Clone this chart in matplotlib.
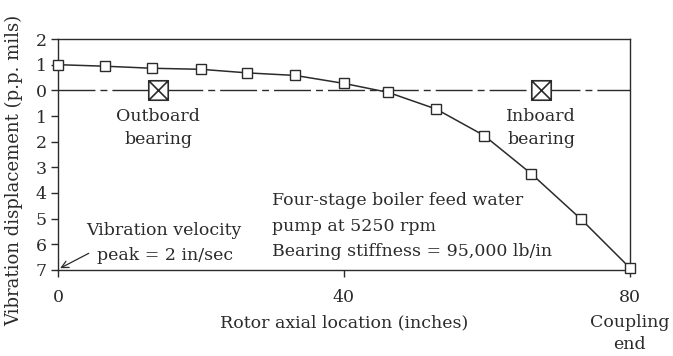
import matplotlib
matplotlib.use("Agg")
import matplotlib.pyplot as plt
from matplotlib.path import Path

# Rotor mode shape: axial position (inches) vs displacement (p.p. mils, + above centerline)
location_in = [0, 6.6, 13.2, 20.0, 26.5, 33.2, 40.0, 46.2, 52.9, 59.6, 66.2, 73.2, 80.0]
displacement = [1.0, 0.94, 0.86, 0.82, 0.68, 0.58, 0.27, -0.08, -0.73, -1.76, -3.25, -5.03, -6.92]

bearing_names = ["Outboard\nbearing", "Inboard\nbearing"]
bearing_pos = [14.0, 67.6]

y_ticks = [2, 1, 0, -1, -2, -3, -4, -5, -6, -7]
y_tick_labels = [str(abs(v)) for v in y_ticks]
x_ticks = [0, 40, 80]

ink = "#2b2b2b"
fs = 12.5
plt.rcParams["font.family"] = ["DejaVu Serif"]
plt.rcParams["font.size"] = fs

fig = plt.figure(figsize=(6.73, 3.56), dpi=100)
ax = fig.add_axes([0.0862, 0.2416, 0.8498, 0.6488])

# centerline (long-short dash)
ax.plot([0, 80], [0, 0], color=ink, lw=1.0, dashes=(26.6, 3.6, 5.0, 3.6), zorder=1)

# mode shape
ax.plot(location_in, displacement, color=ink, lw=1.1, marker="s", ms=6.5,
        mfc="white", mec=ink, mew=1.0, zorder=3, clip_on=False)

# bearing symbols: boxed X
boxx = Path([(-1, -1), (1, -1), (1, 1), (-1, 1), (-1, -1), (-1, -1), (1, 1), (-1, 1), (1, -1)],
            [Path.MOVETO, Path.LINETO, Path.LINETO, Path.LINETO, Path.CLOSEPOLY,
             Path.MOVETO, Path.LINETO, Path.MOVETO, Path.LINETO])
for name, xb in zip(bearing_names, bearing_pos):
    ax.plot([xb], [0], marker=boxx, ms=14, mfc="white", mec=ink, mew=1.2,
            color="none", zorder=4)
    ax.text(xb, -0.7, name, ha="center", va="top", color=ink, linespacing=1.45)

ax.text(29.9, -3.97, "Four-stage boiler feed water\npump at 5250 rpm\nBearing stiffness = 95,000 lb/in",
        ha="left", va="top", color=ink, linespacing=1.66)

ax.text(14.8, -5.47, "Vibration velocity", ha="center", va="center", color=ink)
ax.text(5.4, -6.45, "peak = 2 in/sec", ha="left", va="center", color=ink)
ax.annotate("", xy=(0.3, -6.93), xytext=(4.3, -6.35),
            arrowprops=dict(arrowstyle="->", color=ink, lw=0.9, shrinkA=0, shrinkB=0))

ax.set_xlim(0, 80)
ax.set_ylim(-7, 2)
ax.set_xticks(x_ticks)
ax.set_yticks(y_ticks)
ax.set_yticklabels(y_tick_labels)
ax.tick_params(direction="out", length=5, width=1.0, colors=ink, labelsize=fs)
ax.tick_params(axis="x", pad=9)
ax.tick_params(axis="y", pad=3)
for s in ax.spines.values():
    s.set_color(ink)
    s.set_linewidth(1.0)

ax.set_xlabel("Rotor axial location (inches)", color=ink, fontsize=fs, labelpad=6)
ax.set_ylabel("Vibration displacement (p.p. mils)", color=ink, fontsize=13)
ax.yaxis.set_label_coords(-0.061, 0.43)
ax.text(80, -8.7, "Coupling\nend", ha="center", va="top", color=ink, linespacing=1.45)

fig.savefig("out.png", dpi=100)
